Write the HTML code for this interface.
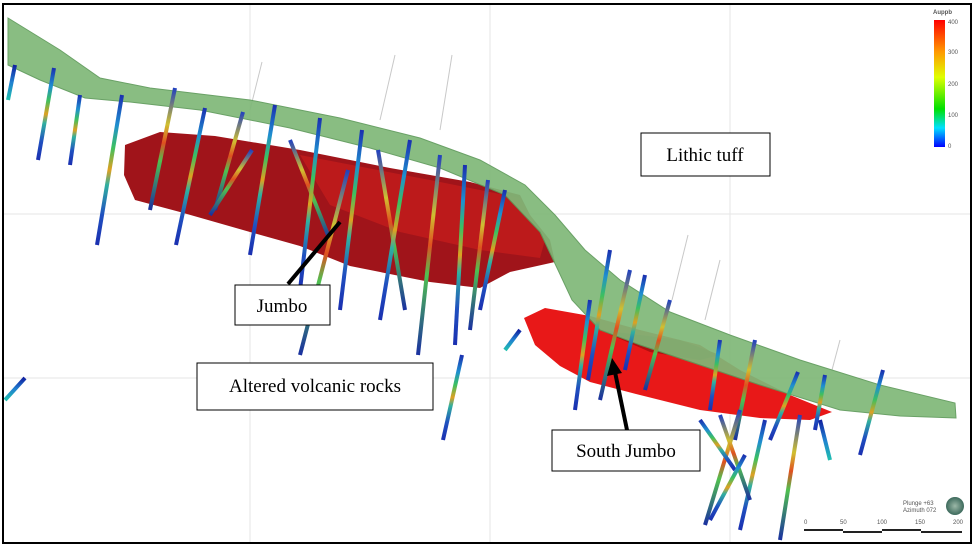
<!DOCTYPE html>
<html><head><meta charset="utf-8"><style>
html,body{margin:0;padding:0;background:#fff;}
svg{display:block}
.lbl{font-family:"Liberation Serif",serif;font-size:19px;fill:#000}
.sm{font-family:"Liberation Sans",sans-serif;font-size:6px;fill:#555}
</style></head><body>
<svg width="974" height="547" viewBox="0 0 974 547" xmlns="http://www.w3.org/2000/svg">
<defs>
<linearGradient id="g1" x1="0" y1="0" x2="0" y2="1">
<stop offset="0" stop-color="#1a2fb0"/><stop offset=".2" stop-color="#1f8fd0"/><stop offset=".35" stop-color="#3cc060"/><stop offset=".5" stop-color="#e0a020"/><stop offset=".6" stop-color="#30b0a0"/><stop offset=".8" stop-color="#2050c0"/><stop offset="1" stop-color="#1a2fb0"/></linearGradient>
<linearGradient id="g2" x1="0" y1="0" x2="0" y2="1">
<stop offset="0" stop-color="#2040c0"/><stop offset=".3" stop-color="#d0c030"/><stop offset=".45" stop-color="#e05020"/><stop offset=".6" stop-color="#50c050"/><stop offset="1" stop-color="#1a30a0"/></linearGradient>
<linearGradient id="g3" x1="0" y1="0" x2="0" y2="1">
<stop offset="0" stop-color="#1020a0"/><stop offset=".5" stop-color="#2080d0"/><stop offset="1" stop-color="#20c0b0"/></linearGradient>
<linearGradient id="leg" x1="0" y1="1" x2="0" y2="0">
<stop offset="0" stop-color="#0000ff"/><stop offset=".15" stop-color="#00e0ff"/><stop offset=".3" stop-color="#00e000"/><stop offset=".55" stop-color="#e0ff00"/><stop offset=".75" stop-color="#ff9900"/><stop offset="1" stop-color="#ff0000"/></linearGradient>
<radialGradient id="ball"><stop offset="0" stop-color="#9cb8a8"/><stop offset="1" stop-color="#3d6a5c"/></radialGradient>
</defs>
<rect x="0" y="0" width="974" height="547" fill="#fff"/>
<!-- grid -->
<g stroke="#e6e6e6" stroke-width="1">
<line x1="4" y1="214" x2="970" y2="214"/><line x1="4" y1="378" x2="970" y2="378"/>
<line x1="250" y1="5" x2="250" y2="542"/><line x1="490" y1="5" x2="490" y2="542"/><line x1="730" y1="5" x2="730" y2="542"/>
</g>
<!-- thin grey traces -->
<g stroke="#c8c8c8" stroke-width="1">
<line x1="262" y1="62" x2="250" y2="110"/><line x1="395" y1="55" x2="380" y2="120"/><line x1="452" y1="55" x2="440" y2="130"/><line x1="688" y1="235" x2="672" y2="300"/><line x1="720" y1="260" x2="705" y2="320"/><line x1="840" y1="340" x2="832" y2="370"/>
</g>
<!-- red Jumbo -->
<path d="M125,145 L160,132 L215,136 L300,150 L390,168 L470,182 L520,195 L530,215 L550,240 L555,262 L510,272 L480,288 L430,282 L350,266 L300,246 L250,232 L180,212 L135,200 L124,175 Z" fill="#a0141a"/>
<path d="M300,155 L430,180 L520,198 L545,240 L540,258 L480,250 L400,232 L330,205 Z" fill="#c81c1c" opacity=".7"/>
<!-- South Jumbo -->
<path d="M524,318 L545,308 L590,316 L640,330 L700,345 L740,370 L790,395 L832,412 L810,420 L760,418 L700,410 L640,395 L590,382 L560,366 L535,345 Z" fill="#e81818"/>
<path d="M600,330 L680,340 L720,355 L700,360 L650,352 Z" fill="#b01010"/>
<!-- green band -->
<path d="M8,18 L60,50 L100,78 L150,88 L250,100 L340,118 L420,138 L480,160 L525,185 L555,215 L585,250 L620,280 L670,312 L730,335 L800,360 L880,385 L955,403 L956,418 L900,416 L840,410 L760,385 L700,365 L640,345 L600,330 L572,300 L558,270 L540,232 L505,195 L440,168 L370,148 L290,128 L200,110 L130,102 L85,98 L40,80 L8,65 Z" fill="#7fb878" opacity=".92" stroke="#5e9a5a" stroke-width="1"/>
<!-- drill holes -->
<g stroke-width="4" fill="none" stroke-linecap="butt">
<line x1="15" y1="65" x2="8" y2="100" stroke="url(#g3)"/>
<line x1="54" y1="68" x2="38" y2="160" stroke="url(#g1)"/>
<line x1="80" y1="95" x2="70" y2="165" stroke="url(#g1)"/>
<line x1="122" y1="95" x2="97" y2="245" stroke="url(#g1)"/>
<line x1="175" y1="88" x2="150" y2="210" stroke="url(#g2)"/>
<line x1="205" y1="108" x2="176" y2="245" stroke="url(#g1)"/>
<line x1="243" y1="112" x2="215" y2="210" stroke="url(#g2)"/>
<line x1="275" y1="105" x2="250" y2="255" stroke="url(#g1)"/>
<line x1="290" y1="140" x2="330" y2="240" stroke="url(#g2)"/>
<line x1="320" y1="118" x2="300" y2="290" stroke="url(#g1)"/>
<line x1="348" y1="170" x2="300" y2="355" stroke="url(#g2)"/>
<line x1="362" y1="130" x2="340" y2="310" stroke="url(#g1)"/>
<line x1="378" y1="150" x2="405" y2="310" stroke="url(#g2)"/>
<line x1="410" y1="140" x2="380" y2="320" stroke="url(#g1)"/>
<line x1="440" y1="155" x2="418" y2="355" stroke="url(#g2)"/>
<line x1="465" y1="165" x2="455" y2="345" stroke="url(#g1)"/>
<line x1="488" y1="180" x2="470" y2="330" stroke="url(#g2)"/>
<line x1="505" y1="190" x2="480" y2="310" stroke="url(#g1)"/>
<line x1="462" y1="355" x2="443" y2="440" stroke="url(#g1)"/>
<line x1="252" y1="150" x2="210" y2="215" stroke="url(#g2)"/>
<line x1="25" y1="378" x2="5" y2="400" stroke="url(#g3)"/>
<line x1="610" y1="250" x2="588" y2="380" stroke="url(#g1)"/>
<line x1="630" y1="270" x2="600" y2="400" stroke="url(#g2)"/>
<line x1="645" y1="275" x2="625" y2="370" stroke="url(#g1)"/>
<line x1="670" y1="300" x2="645" y2="390" stroke="url(#g2)"/>
<line x1="590" y1="300" x2="575" y2="410" stroke="url(#g1)"/>
<line x1="720" y1="340" x2="710" y2="410" stroke="url(#g1)"/>
<line x1="755" y1="340" x2="735" y2="440" stroke="url(#g2)"/>
<line x1="798" y1="372" x2="770" y2="440" stroke="url(#g1)"/>
<line x1="825" y1="375" x2="815" y2="430" stroke="url(#g1)"/>
<line x1="883" y1="370" x2="860" y2="455" stroke="url(#g1)"/>
<line x1="740" y1="410" x2="705" y2="525" stroke="url(#g2)"/>
<line x1="765" y1="420" x2="740" y2="530" stroke="url(#g1)"/>
<line x1="800" y1="415" x2="780" y2="540" stroke="url(#g2)"/>
<line x1="720" y1="415" x2="750" y2="500" stroke="url(#g2)"/>
<line x1="700" y1="420" x2="735" y2="470" stroke="url(#g1)"/>
<line x1="820" y1="420" x2="830" y2="460" stroke="url(#g3)"/>
<line x1="745" y1="455" x2="710" y2="520" stroke="url(#g1)"/>
<line x1="520" y1="330" x2="505" y2="350" stroke="url(#g3)"/>
</g>
<!-- labels -->
<g stroke="#000" stroke-width="1" fill="#fff">
<rect x="641" y="133" width="129" height="43"/>
<rect x="235" y="285" width="95" height="40"/>
<rect x="197" y="363" width="236" height="47"/>
<rect x="552" y="430" width="148" height="41"/>
</g>
<text class="lbl" x="705" y="161" text-anchor="middle">Lithic tuff</text>
<text class="lbl" x="282" y="312" text-anchor="middle">Jumbo</text>
<text class="lbl" x="315" y="392" text-anchor="middle">Altered volcanic rocks</text>
<text class="lbl" x="626" y="457" text-anchor="middle">South Jumbo</text>
<!-- arrows -->
<line x1="288" y1="284" x2="340" y2="222" stroke="#000" stroke-width="4"/>
<line x1="627" y1="430" x2="615" y2="372" stroke="#000" stroke-width="4"/>
<polygon points="612,358 607,376 622,373" fill="#000"/>
<!-- legend -->
<rect x="934" y="20" width="11" height="127" fill="url(#leg)"/>
<text class="sm" x="933" y="14" font-weight="bold">Auppb</text>
<g class="sm"><text x="948" y="24">400</text><text x="948" y="54">300</text><text x="948" y="86">200</text><text x="948" y="117">100</text><text x="948" y="148">0</text></g>
<!-- compass/scale -->
<circle cx="955" cy="506" r="9" fill="url(#ball)"/>
<text class="sm" x="903" y="505">Plunge +63</text>
<text class="sm" x="903" y="512">Azimuth 072</text>
<g class="sm"><text x="804" y="524">0</text><text x="840" y="524">50</text><text x="877" y="524">100</text><text x="915" y="524">150</text><text x="953" y="524">200</text></g>
<g stroke="#222" stroke-width="2"><line x1="804" y1="530" x2="843" y2="530"/><line x1="843" y1="532" x2="882" y2="532"/><line x1="882" y1="530" x2="921" y2="530"/><line x1="921" y1="532" x2="962" y2="532"/></g>
<!-- frame -->
<rect x="3" y="4" width="968" height="539" fill="none" stroke="#000" stroke-width="2"/>
</svg>
</body></html>
